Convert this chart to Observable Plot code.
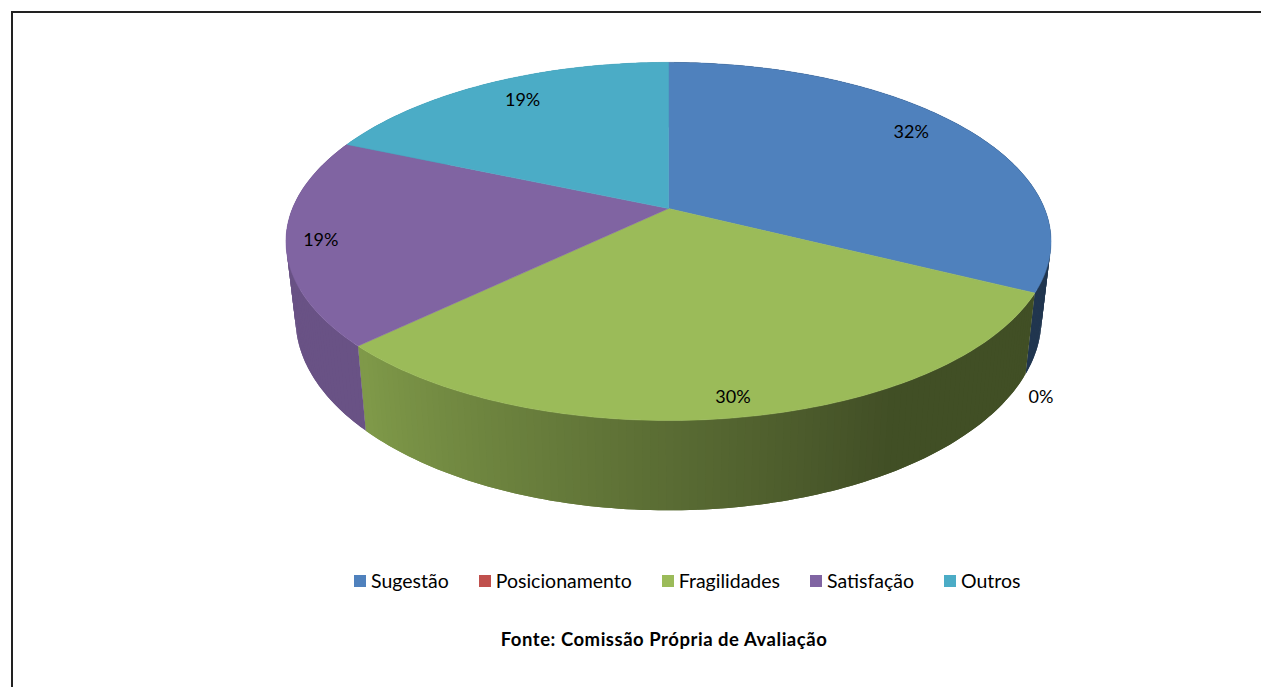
<!DOCTYPE html>
<html lang="pt">
<head>
<meta charset="utf-8">
<script src="https://cdn.jsdelivr.net/npm/d3@7"></script>
<script src="https://cdn.jsdelivr.net/npm/@observablehq/plot@0.6"></script>
<style>
  html, body { margin: 0; padding: 0; background: #fff; width: 1261px; height: 687px; overflow: hidden; }
  #page { position: relative; width: 1261px; height: 687px; font-family: Lato, "Open Sans", sans-serif; color: #000; }
  #frame { position: absolute; left: 11px; top: 11px; width: 1260px; height: 690px; border-left: 2px solid #222; border-top: 2px solid #222; }
  #chart { position: absolute; left: 0; top: 0; }
  #legend { position: absolute; left: 354px; top: 569px; display: flex; gap: 30px; font-size: 19.5px; line-height: 24px; white-space: nowrap; }
  #legend span.item { display: flex; align-items: center; gap: 5px; }
  #legend i { display: block; width: 12px; height: 12px; }
  #caption { position: absolute; left: 451px; width: 426px; top: 628px; text-align: center; font-size: 18.5px; letter-spacing: 0.53px; line-height: 22px; font-weight: 700; white-space: nowrap; }
</style>
</head>
<body>
<div id="page">
  <div id="frame"></div>
  <div id="chart"></div>
  <div id="legend"></div>
  <div id="caption">Fonte: Comissão Própria de Avaliação</div>
</div>
<script>
// Data
const categories = ["Sugestão", "Posicionamento", "Fragilidades", "Satisfação", "Outros"];
const shares = [32.4, 0, 30.4, 18.7, 18.5];

// Styles and label placement
const colors = ["#4f81bd", "#c0504d", "#9bbb59", "#8064a2", "#4bacc6"];
const labelRadius = [0.85, 1.227, 0.919, 0.912, 0.835];
const labelNudge = [-2.6, 21.1, -0.3, -1, 1.6];

// Perspective of the pie disc
const tilt = 0.184;
const rimShrink = 0.975;
const rimDrop = 0.4335;
const rimStretch = 0.07;

const rad = (deg) => (deg * Math.PI) / 180;
function top3d(deg, r = 1) {
  const u = r * Math.sin(rad(deg));
  const v = -r * Math.cos(rad(deg));
  const w = 1 - tilt * v;
  return {x: u / w, y: v / w};
}
function rim3d(deg) {
  const p = top3d(deg);
  return {x: p.x * rimShrink, y: p.y + rimDrop + rimStretch * p.y};
}
// Side lighting: dark on the right of the front, lit towards the left
function lightAt(deg) {
  const t = Math.max(0, Math.min(1, (deg - 150) / 75));
  return 0.42 + 0.40 * t;
}
function shade(hex, k) {
  const c = d3.rgb(hex);
  return d3.rgb(c.r * k, c.g * k, c.b * k).formatHex();
}

// Slices from the values
let running = 0;
const total = d3.sum(shares);
const slices = categories.map((name, i) => {
  const start = (running / total) * 360;
  running += shares[i];
  const end = (running / total) * 360;
  return {name, i, start, end, mid: (start + end) / 2, value: shares[i]};
});

const topFaces = [];
const wallStrips = [];
for (const s of slices) {
  if (s.value === 0) continue;
  const steps = Math.ceil(s.end - s.start);
  const at = (j) => s.start + ((s.end - s.start) * j) / steps;
  topFaces.push({...top3d(0, 0), name: s.name});
  for (let j = 0; j <= steps; j++) topFaces.push({...top3d(at(j)), name: s.name});
  topFaces.push({...top3d(0, 0), name: s.name});
  for (let j = 0; j < steps; j++) {
    // each strip runs under the next one, so no seam shows between them
    const a = at(j), b = at(Math.min(j + 2, steps));
    const id = s.name + j;
    const fill = shade(colors[s.i], lightAt(at(j + 0.5)));
    for (const p of [top3d(a), top3d(at(j + 1)), top3d(b), rim3d(b), rim3d(at(j + 1)), rim3d(a), top3d(a)]) {
      wallStrips.push({...p, id, fill});
    }
  }
}

const labels = slices.map((s) => ({
  ...top3d(s.mid + labelNudge[s.i], labelRadius[s.i]),
  text: Math.round(s.value) + "%"
}));

const plot = Plot.plot({
  width: 1261,
  height: 560,
  margin: 0,
  style: {background: "transparent"},
  x: {axis: null, domain: [-1, 1], range: [292, 1044]},
  y: {axis: null, domain: [-1, 1], range: [35, 381]},
  color: {domain: categories, range: colors},
  marks: [
    Plot.line(wallStrips, {
      x: "x", y: "y", z: "id",
      fill: {value: (d) => d.fill, scale: null},
      stroke: "none",
      curve: "linear"
    }),
    Plot.line(topFaces, {
      x: "x", y: "y", z: "name",
      fill: "name", stroke: "name",
      strokeWidth: 0.5, curve: "linear"
    }),
    Plot.text(labels, {
      x: "x", y: "y", text: "text",
      fontFamily: "Lato, 'Open Sans', sans-serif",
      fontSize: 18, fill: "#000"
    })
  ]
});
document.getElementById("chart").append(plot);

const legend = document.getElementById("legend");
categories.forEach((name, i) => {
  const item = document.createElement("span");
  item.className = "item";
  const swatch = document.createElement("i");
  swatch.style.background = colors[i];
  const text = document.createElement("span");
  text.textContent = name;
  item.append(swatch, text);
  legend.append(item);
});
</script>
</body>
</html>
